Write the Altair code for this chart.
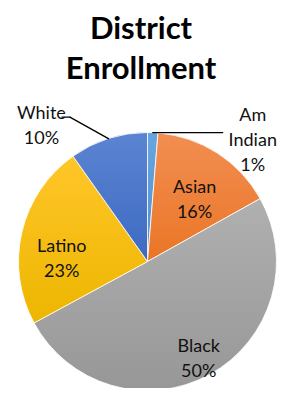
import altair as alt
import pandas as pd

# ---- data ----
categories = ["Am Indian", "Asian", "Black", "Latino", "White"]
shares = [1.3, 15.6, 50.2, 23.1, 9.8]
label_names = ["Am\nIndian", "Asian", "Black", "Latino", "White"]
pct_labels = ["1%", "16%", "50%", "23%", "10%"]

df = pd.DataFrame({
    "category": categories,
    "share": shares,
    "order": list(range(len(categories))),
    "label": [f"{n}\n{p}" for n, p in zip(label_names, pct_labels)],
})

# ---- layout / style ----
W, H = 270, 284
PAD_TOP = 96
CX, CY, R = 139.5, 157.5, 129
FONT = "Lato"

gradients = {
    "Am Indian": ("#66A6E0", "#4F90D0"),
    "Asian": ("#F28E52", "#EA7626"),
    "Black": ("#B0B0B0", "#979797"),
    "Latino": ("#FFC629", "#EDB600"),
    "White": ("#5B84D2", "#3D6AC2"),
}
# label placement: radius from centre, extra offset
label_pos = {
    "Am Indian": (129, 100, -17),
    "Asian": (87, 0, 0),
    "Black": (100, 3, -2),
    "Latino": (87, -1, 5),
    "White": (129, -67, -25),
}

theta_scale = alt.Scale(domain=[0, 100], range=[0, 6.283185307179586])

base = alt.Chart(df).transform_window(
    cum="sum(share)", sort=[alt.SortField("order")], frame=[None, 0]
).transform_calculate(
    start="datum.cum - datum.share",
    mid="datum.cum - datum.share / 2",
)

layers = []
for cat in categories:
    top, bot = gradients[cat]
    grad = alt.LinearGradient(
        gradient="linear",
        stops=[alt.GradientStop(color=top, offset=0), alt.GradientStop(color=bot, offset=1)],
        x1=0, x2=0, y1=0, y2=1,
    )
    layers.append(
        base.transform_filter(alt.datum.category == cat)
        .mark_arc(fill=grad, stroke="white", strokeWidth=0.8, radius=R)
        .encode(
            theta=alt.Theta("start:Q", scale=theta_scale, stack=None),
            theta2="cum:Q",
            x=alt.value(CX),
            y=alt.value(CY),
        )
    )

# leader lines for the outside labels
leaders = {
    "White": (-38.5, -21.5, -8),
    "Am Indian": (70, 0, 0),
}
for cat, (ex, ey, fx) in leaders.items():
    lb = base.transform_filter(alt.datum.category == cat).transform_calculate(
        a="2 * PI * datum.mid / 100",
    ).transform_calculate(
        px=f"{CX} + {R} * sin(datum.a)",
        py=f"{CY} - {R} * cos(datum.a)",
    ).transform_calculate(
        ex=f"datum.px + ({ex})",
        ey=f"datum.py + ({ey})",
    ).transform_calculate(
        fx=f"datum.ex + ({fx})",
    )
    layers.append(
        lb.mark_rule(color="black", strokeWidth=1.3, strokeCap="round").encode(
            x=alt.X("px:Q", scale=None, axis=None),
            y=alt.Y("py:Q", scale=None, axis=None),
            x2="ex:Q",
            y2="ey:Q",
        )
    )
    if fx != 0:
        layers.append(
            lb.mark_rule(color="black", strokeWidth=1.3, strokeCap="round").encode(
                x=alt.X("ex:Q", scale=None, axis=None),
                y=alt.Y("ey:Q", scale=None, axis=None),
                x2="fx:Q",
                y2="ey:Q",
            )
        )

for cat in categories:
    r, dx, dy = label_pos[cat]
    layers.append(
        base.transform_filter(alt.datum.category == cat)
        .mark_text(
            font=FONT, fontSize=18, lineBreak="\n", lineHeight=25,
            align="center", baseline="middle", color="#111111", dx=dx, dy=dy,
        )
        .encode(
            theta=alt.Theta("mid:Q", scale=theta_scale, stack=None),
            radius=alt.value(r),
            text="label:N",
            x=alt.value(CX),
            y=alt.value(CY),
        )
    )

chart = alt.layer(*layers).properties(
    width=W,
    height=H,
    autosize="none",
    padding={"top": PAD_TOP, "left": 0, "right": 0, "bottom": 0},
    title=alt.Title(
        ["District", "Enrollment"],
        font=FONT, fontSize=31, fontWeight="bold", lineHeight=40,
        anchor="middle", offset=18, dx=-2, color="black",
    ),
).configure_view(stroke=None)

chart.save("out.html", embed_options={"renderer": "svg", "actions": False})
